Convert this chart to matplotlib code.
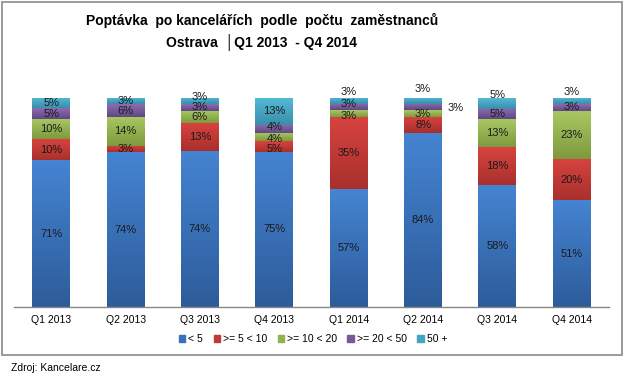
import matplotlib
matplotlib.use("Agg")
import matplotlib.pyplot as plt
import numpy as np
from matplotlib.patches import Rectangle
from matplotlib.colors import LinearSegmentedColormap

plt.rcParams['font.family'] = ['Liberation Sans', 'DejaVu Sans']

categories = ["Q1 2013", "Q2 2013", "Q3 2013", "Q4 2013", "Q1 2014", "Q2 2014", "Q3 2014", "Q4 2014"]
series_names = ["< 5", ">= 5 < 10", ">= 10 < 20", ">= 20 < 50", "50 +"]
lt5 = [71, 74, 74, 75, 57, 84, 58, 51]
s5_10 = [10, 3, 13, 5, 35, 8, 18, 20]
s10_20 = [10, 14, 6, 4, 3, 3, 13, 23]
s20_50 = [5, 6, 3, 4, 3, 3, 5, 3]
s50p = [5, 3, 3, 13, 3, 3, 5, 3]

title = "Poptávka  po kancelářích  podle  počtu  zaměstnanců\nOstrava  │Q1 2013  - Q4 2014"
source = "Zdroj: Kancelare.cz"

series = [lt5, s5_10, s10_20, s20_50, s50p]
light = ["#4584D2", "#D8433F", "#A9C862", "#8C6CB2", "#52BAD8"]
dark = ["#2D5C9A", "#A8302C", "#7E9A3E", "#604882", "#3A8EA8"]
mid = ["#3A70BA", "#C03A36", "#94B24F", "#765A9A", "#45A4C0"]

fig = plt.figure(figsize=(6.27, 3.75), dpi=100)
W, H = 627, 375
ax = fig.add_axes([14 / W, (H - 307) / H, 595 / W, 209 / H])

data = np.array(series, dtype=float)
totals = data.sum(axis=0)
pct = data / totals * 100

x = np.arange(len(categories))
width = 0.51
bottom = np.zeros(len(categories))
grad = np.linspace(0, 1, 100).reshape(-1, 1)
nudge = {(3, 4): 1.8, (2, 4): -1.2, (3, 3): 1.2, (2, 3): -0.6, (1, 3): -0.9}
for i, name in enumerate(series_names):
    bars = ax.bar(x, pct[i], width, bottom=bottom, color=mid[i], label=name, linewidth=0, zorder=2)
    cmap = LinearSegmentedColormap.from_list("g%d" % i, [dark[i], light[i]])
    for j, b in enumerate(bars):
        x0, y0 = b.get_x(), b.get_y()
        w, h = b.get_width(), b.get_height()
        im = ax.imshow(grad, cmap=cmap, aspect='auto', origin='lower',
                       extent=[x0, x0 + w, y0, y0 + h], zorder=2.5, interpolation='bilinear')
        im.set_clip_path(b)
        # labels
        val = series[i][j]
        lx, ly = x[j], y0 + h / 2
        ha = 'center'
        if i == 4 and j in (2, 4, 5, 7):
            ly = 100 + {2: 0.5, 4: 3, 5: 4.5, 7: 3}[j]
        if i == 4 and j == 6:
            ly = 101.5
        if i == 3 and j == 5:
            lx = x[j] + 0.33
            ly = 95
            ha = 'left'
        ly += nudge.get((i, j), 0)
        ax.text(lx, ly, "%d%%" % val, ha=ha, va='center', fontsize=8, color='#1a1a1a', zorder=5)
    bottom += pct[i]

ax.set_xlim(-0.5, len(categories) - 0.5)
ax.set_ylim(0, 100)
ax.set_yticks([])
ax.set_xticks(x)
ax.set_xticklabels(categories, fontsize=7.5)
ax.tick_params(axis='x', length=0, pad=6)
for s in ['top', 'right', 'left']:
    ax.spines[s].set_visible(False)
ax.spines['bottom'].set_color('#888888')
ax.spines['bottom'].set_linewidth(1)

handles = [Rectangle((0, 0), 1, 1, color=c) for c in mid]
fig.legend(handles, series_names, loc='center', bbox_to_anchor=(313 / W, (H - 339) / H),
           ncol=5, frameon=False, fontsize=7.5, handlelength=0.6, handleheight=0.6,
           handletextpad=0.3, columnspacing=1.0)

fig.text(262 / W, (H - 32) / H, title, ha='center', va='center', fontsize=10, fontweight='bold',
         linespacing=1.45)
fig.text(11 / W, (H - 368) / H, source, ha='left', va='center', fontsize=7.5)

fig.add_artist(Rectangle((1.5 / W, (H - 355) / H), 620 / W, 353 / H, transform=fig.transFigure,
                         fill=False, edgecolor='#8a8a8a', linewidth=1.2))

fig.savefig("out.png", dpi=100)
